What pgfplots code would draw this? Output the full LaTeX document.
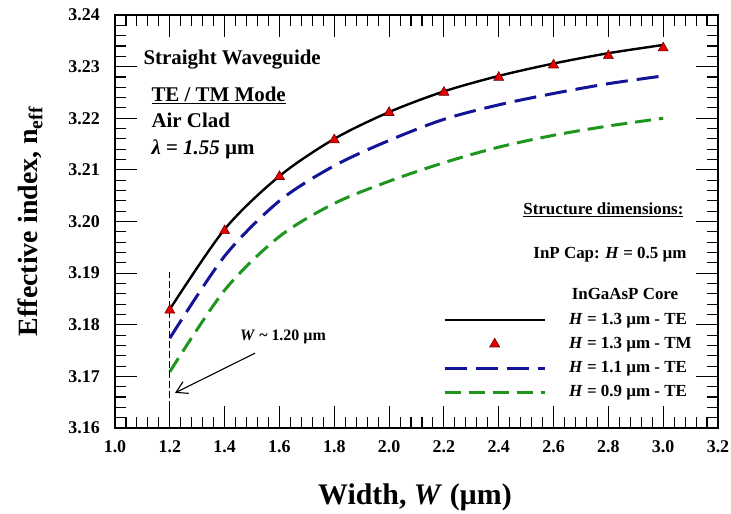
\documentclass[border=0pt]{standalone}
\usepackage{fontspec}
\setmainfont{Liberation Serif}
\usepackage{pgfplots}
\pgfplotsset{compat=1.18}
\usetikzlibrary{arrows.meta}
\definecolor{myblue}{RGB}{20,20,150}
\definecolor{mygreen}{RGB}{30,150,30}
\definecolor{myred}{RGB}{230,0,0}
\newcommand{\fs}[1]{\fontsize{#1}{#1}\selectfont}
\pgfplotsset{
  legline/.style={legend image code/.code={\draw[##1] (0bp,0bp) -- (100bp,0bp);}},
  legmark/.style={legend image code/.code={\draw[##1, mark repeat=2, mark phase=2] plot coordinates {(0bp,0bp) (50bp,0bp) (100bp,0bp)};}},
  myaxis/.style={
  scale only axis, width=603bp, height=413bp,
  xmin=1.0, xmax=3.2, ymin=3.16, ymax=3.24,
  scaled ticks=false,
  xtick={1.0,1.2,1.4,1.6,1.8,2.0,2.2,2.4,2.6,2.8,3.0,3.2},
  xticklabels={1.0,1.2,1.4,1.6,1.8,2.0,2.2,2.4,2.6,2.8,3.0,3.2},
  ytick={3.16,3.17,3.18,3.19,3.20,3.21,3.22,3.23,3.24},
  yticklabels={3.16,3.17,3.18,3.19,3.20,3.21,3.22,3.23,3.24},
  minor x tick num=4, minor y tick num=4,
  tick align=inside, xtick pos=both, ytick pos=both,
  major tick length=22pt, minor tick length=11pt,
  tick style={black, line width=1.1pt},
  axis line style={line width=1.4bp},
  ticklabel style={font=\bfseries\fs{18}},
  }
}
\begin{document}
\begin{tikzpicture}
\begin{axis}[myaxis, axis on top, clip=false,
  yticklabel style={inner sep=0pt, xshift=-15bp},
  xticklabel style={inner sep=0pt, yshift=-12bp},
  xlabel={Width, \textit{W} (µm)},
  ylabel={Effective index, n\textsubscript{eff}},
  every axis x label/.style={at={(axis description cs:0.4975,-0.167)}, anchor=center, font=\bfseries\fs{30}},
  every axis y label/.style={at={(axis description cs:-0.141,0.5)}, anchor=center, rotate=90, font=\bfseries\fs{28}},
  legend style={at={(axis cs:2.1966,3.1823)}, anchor=north west, draw=none, fill=none, inner sep=0pt,
    column sep=23bp, row sep=10bp, font=\bfseries\fs{17},
    nodes={inner sep=0pt, text height=11bp, text depth=3bp}},
  legend cell align=left,
]
\addplot[black, line width=2.4bp, smooth, legline]
  coordinates {(1.2,3.1830)(1.4,3.1985)(1.6,3.2088)(1.8,3.2160)(2.0,3.2212)(2.2,3.2252)(2.4,3.2282)(2.6,3.2306)(2.8,3.2326)(3.0,3.2342)};
\addlegendentry{\textit{H} = 1.3 µm - TE}
\addplot[only marks, mark=triangle*, mark size=5.8bp, mark options={fill=myred, draw=black!60!red, line width=0.6bp}, legmark]
  coordinates {(1.2,3.1828)(1.4,3.1982)(1.6,3.2087)(1.8,3.2158)(2.0,3.2211)(2.2,3.2250)(2.4,3.2279)(2.6,3.2303)(2.8,3.2321)(3.0,3.2336)};
\addlegendentry{\textit{H} = 1.3 µm - TM}
\addplot[myblue, line width=3bp, smooth, dash pattern=on 22bp off 9bp, legline]
  coordinates {(1.2,3.1774)(1.4,3.1933)(1.6,3.2040)(1.8,3.2108)(2.0,3.2157)(2.2,3.2198)(2.4,3.2226)(2.6,3.2248)(2.8,3.2267)(3.0,3.2282)};
\addlegendentry{\textit{H} = 1.1 µm - TE}
\addplot[mygreen, line width=3bp, smooth, dash pattern=on 16bp off 8bp, legline]
  coordinates {(1.2,3.1709)(1.4,3.1867)(1.6,3.1971)(1.8,3.2035)(2.0,3.2078)(2.2,3.2114)(2.4,3.2144)(2.6,3.2167)(2.8,3.2185)(3.0,3.2200)};
\addlegendentry{\textit{H} = 0.9 µm - TE}

\node[anchor=base west, font=\bfseries\fs{21}] at (axis cs:1.0912,3.2305) {Straight Waveguide};
\node[anchor=base west, font=\bfseries\fs{21}] at (axis cs:1.1204,3.2233) {\underline{TE / TM Mode}};
\node[anchor=base west, font=\bfseries\fs{21}] at (axis cs:1.1204,3.2182) {Air Clad};
\node[anchor=base west, font=\bfseries\fs{21}] at (axis cs:1.1204,3.2129) {\textit{λ} = \textit{1.55} µm};
\node[anchor=base east, font=\bfseries\fs{17}] at (axis cs:3.0868,3.2013) {\underline{Structure dimensions:}};
\node[anchor=base east, font=\bfseries\fs{17}] at (axis cs:3.0978,3.1929) {InP Cap: \textit{H} = 0.5 µm};
\node[anchor=base, font=\bfseries\fs{17}] at (axis cs:2.8607,3.1848) {InGaAsP Core};
\draw[black, line width=0.8bp, dash pattern=on 7bp off 3bp] (axis cs:1.2,3.16) -- (axis cs:1.2,3.1902);
\draw[black, line width=1.1bp, -{Straight Barb[length=11bp,width=13bp]}] (axis cs:1.511,3.1745) -- (axis cs:1.219,3.1668);
\node[font=\bfseries\fs{16}] at (axis cs:1.613,3.1776) {\textit{W} \textasciitilde{} 1.20 µm};
\end{axis}
\path (-115bp,-86bp) rectangle (616bp,428bp);
\end{tikzpicture}
\end{document}
